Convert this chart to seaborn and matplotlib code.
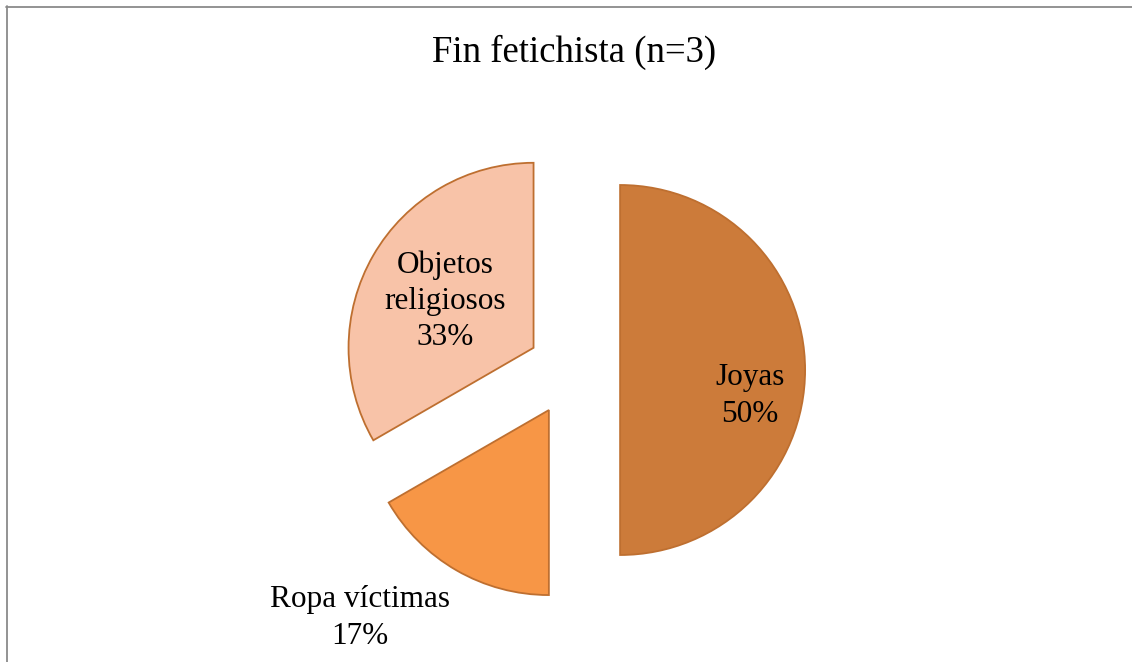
import matplotlib.pyplot as plt
import seaborn as sns
from matplotlib.lines import Line2D

# data
categories = ['Joyas', 'Ropa víctimas', 'Objetos religiosos']
label_text = ['Joyas\n50%', 'Ropa víctimas\n17%', 'Objetos\nreligiosos\n33%']
values = [3, 1, 2]
colors = ['#CC7B3A', '#F79646', '#F8C3A8']
title = 'Fin fetichista (n=3)'

sns.set_theme(style='white')
plt.rcParams['font.family'] = ['Liberation Serif', 'DejaVu Serif']

fig = plt.figure(figsize=(11.32, 6.62), dpi=100)
ax = fig.add_axes([0, 0, 1, 1])

wedges, _ = ax.pie(values, colors=colors, startangle=90, counterclock=False,
                   explode=[0.26, 0.25, 0.24],
                   wedgeprops=dict(edgecolor='#BE6F30', linewidth=1.3))

# 1 data unit = radius = 185 px, pie centre at (572, 370) px
r = 185.0
ax.set_aspect('auto')
ax.set_xlim(-572 / r, (1132 - 572) / r)
ax.set_ylim(-(662 - 370) / r, 370 / r)
ax.axis('off')

def px(x, y):
    return (x - 572) / r, (370 - y) / r

# slice labels
label_pos = [(750, 396), (360, 618), (445, 301)]
for txt, (x, y) in zip(label_text, label_pos):
    ax.text(*px(x, y), txt, ha='center', va='center', fontsize=22.5,
            linespacing=1.32, color='black')

ax.text(*px(574, 52), title, ha='center', va='center', fontsize=26.5, color='black')

# chart border (only top and left visible in the crop)
fig.add_artist(Line2D([6 / 1132, 1], [1 - 7 / 662, 1 - 7 / 662], color='#8A8A8A',
                      linewidth=1.3, transform=fig.transFigure))
fig.add_artist(Line2D([7 / 1132, 7 / 1132], [0, 1 - 6 / 662], color='#8A8A8A',
                      linewidth=1.3, transform=fig.transFigure))

plt.savefig('out.png', dpi=100)
plt.close()
